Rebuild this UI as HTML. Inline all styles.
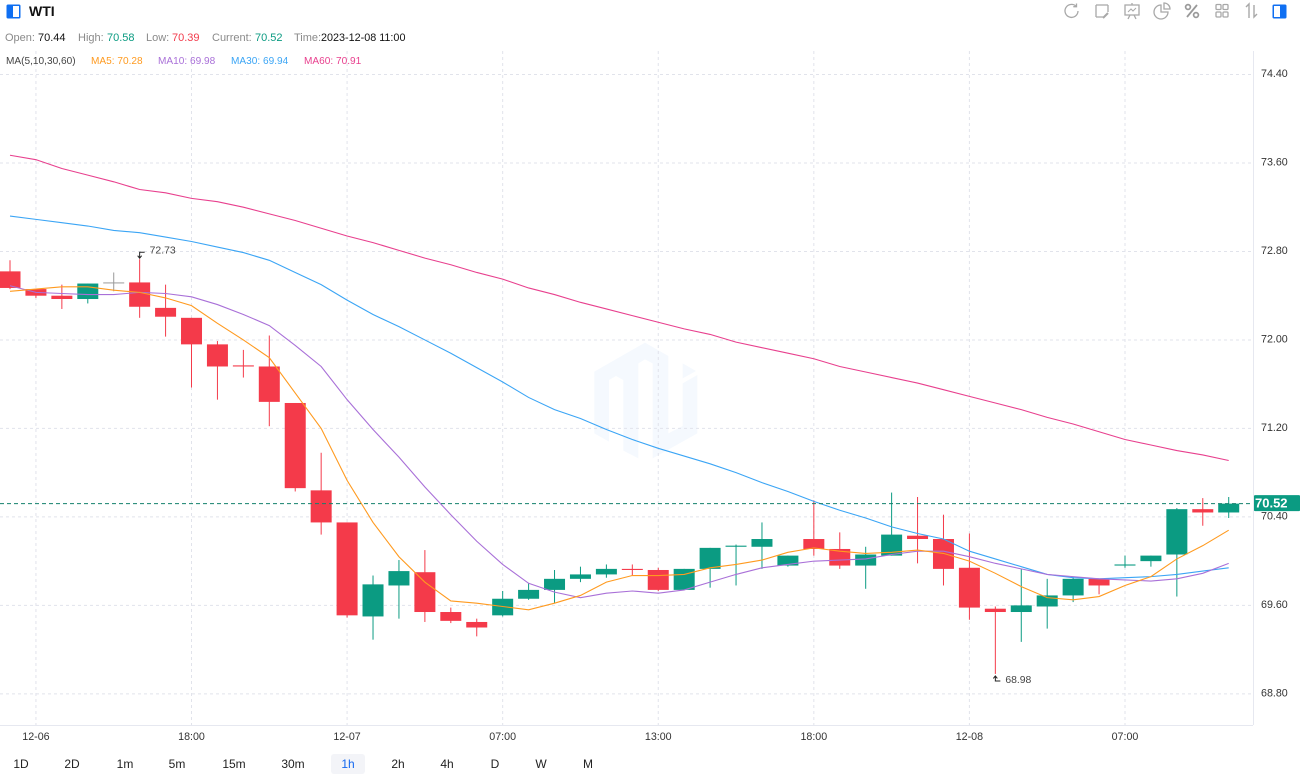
<!DOCTYPE html>
<html lang="en">
<head>
<meta charset="utf-8">
<title>WTI chart</title>
<style>
html,body{margin:0;padding:0;background:#fff;width:1300px;height:774px;overflow:hidden}
body{font-family:"Liberation Sans",Arial,sans-serif;position:relative}
.t{position:absolute;white-space:nowrap;line-height:14px}
.lab{color:#8a8a8a;font-size:11px}
.blk{color:#111;font-size:11px}
.grn{color:#0b9b82;font-size:11px}
.red{color:#f23a4b;font-size:11px}
.ma{font-size:10.1px}
.btn{position:absolute;top:756px;height:16px;line-height:16px;font-size:12px;color:#222;text-align:center;transform:translateX(-50%);white-space:nowrap;cursor:pointer}
#chart{position:absolute;left:0;top:0}
.ic{position:absolute;top:2px;width:20px;height:18px;fill:none;stroke:#a8a8a8;stroke-width:1.3}
</style>
</head>
<body>
<svg id="chart" width="1300" height="774" viewBox="0 0 1300 774" xmlns="http://www.w3.org/2000/svg">
  <defs><clipPath id="plot"><rect x="0" y="51" width="1253" height="674"/></clipPath></defs>
  <g id="watermark" transform="translate(560,320) scale(0.3333)" fill="#f5f9fe">
    <path d="M103 155 L255 68 L325 108 L325 340 L368 318 L368 190 L412 165 L412 340 L278 415 L278 130 L255 118 L235 130 L235 415 L190 392 L190 180 L168 168 L147 180 L147 365 L103 340 Z"/>
    <path d="M368 130 L408 153 L368 175 Z"/>
  </g>
  <g id="grid"></g>
  <g id="candles" clip-path="url(#plot)"></g>
  <g id="lines" clip-path="url(#plot)"></g>
  <g id="extremes"></g>
  <g id="axes"></g>
</svg>

<svg style="position:absolute;left:6px;top:4px" width="15" height="15" viewBox="0 0 15 15"><rect x="0.5" y="0.5" width="14" height="14" rx="1.5" fill="#0f6ff2"/><rect x="7" y="2" width="6" height="11" fill="#fff"/></svg>
<div class="t" style="left:29px;top:4px;font-size:14px;font-weight:bold;color:#111">WTI</div>

<div>
<span class="t lab" style="left:5px;top:31px">Open:</span>
<span class="t blk" style="left:38px;top:31px">70.44</span>
<span class="t lab" style="left:78px;top:31px">High:</span>
<span class="t grn" style="left:107px;top:31px">70.58</span>
<span class="t lab" style="left:146px;top:31px">Low:</span>
<span class="t red" style="left:172px;top:31px">70.39</span>
<span class="t lab" style="left:212px;top:31px">Current:</span>
<span class="t grn" style="left:255px;top:31px">70.52</span>
<span class="t lab" style="left:294px;top:31px">Time:</span>
<span class="t blk" style="left:321px;top:31px;font-size:10.8px">2023-12-08 11:00</span>
</div>

<div>
<span class="t ma" style="left:6px;top:55px;color:#444">MA(5,10,30,60)</span>
<span class="t ma" style="left:91px;top:55px;color:#ff9a1f">MA5: 70.28</span>
<span class="t ma" style="left:158px;top:55px;color:#a970d8">MA10: 69.98</span>
<span class="t ma" style="left:231px;top:55px;color:#3ba5f5">MA30: 69.94</span>
<span class="t ma" style="left:304px;top:55px;color:#e8408e">MA60: 70.91</span>
</div>

<svg class="ic" style="left:1062px" viewBox="0 0 20 18"><path d="M16 9a6.5 6.5 0 1 1-2-4.8"/><path d="M14.5 1.5v3.2h-3.2"/></svg>
<svg class="ic" style="left:1092px" viewBox="0 0 20 18"><path d="M4 3h12M4 3v12M16 3v7M4 15h7"/><path d="M11 16l5-5" stroke-width="2"/></svg>
<svg class="ic" style="left:1122px" viewBox="0 0 20 18"><path d="M3 3h14v10H3zM10 1v2M6 17l2-4M14 17l-2-4"/><path d="M6 10l3-3 2 2 3-3" stroke-width="1"/></svg>
<svg class="ic" style="left:1152px" viewBox="0 0 20 18"><path d="M9 3a7 7 0 1 0 7 7H9z"/><path d="M12 1a6 6 0 0 1 6 6h-6z"/></svg>
<svg class="ic" style="left:1182px;stroke:#999;stroke-width:1.7" viewBox="0 0 20 18"><circle cx="6" cy="5" r="2.4"/><circle cx="14" cy="13" r="2.4"/><path d="M15 3L5 15" stroke-width="1.8"/></svg>
<svg class="ic" style="left:1212px" viewBox="0 0 20 18"><rect x="4" y="2.5" width="5" height="5" rx="1"/><rect x="11" y="2.5" width="5" height="5" rx="1"/><rect x="4" y="10" width="5" height="5" rx="1"/><rect x="11" y="10" width="5" height="5" rx="1"/></svg>
<svg class="ic" style="left:1241px" viewBox="0 0 20 18"><path d="M8 16V2L5 5" stroke-width="1.4"/><path d="M13 3v12l3-3" stroke-width="1.4"/></svg>
<svg style="position:absolute;left:1272px;top:4px" width="15" height="15" viewBox="0 0 15 15"><rect x="0.5" y="0.5" width="14" height="14" rx="1.5" fill="#0f6ff2"/><rect x="2" y="2" width="6" height="11" fill="#fff"/></svg>

<div>
<div style="position:absolute;left:331px;top:754px;width:34px;height:20px;background:#f3f4f8;border-radius:3px"></div>
<div class="btn" style="left:21px">1D</div>
<div class="btn" style="left:72px">2D</div>
<div class="btn" style="left:125px">1m</div>
<div class="btn" style="left:177px">5m</div>
<div class="btn" style="left:234px">15m</div>
<div class="btn" style="left:293px">30m</div>
<div class="btn" style="left:348px;color:#1468f0">1h</div>
<div class="btn" style="left:398px">2h</div>
<div class="btn" style="left:447px">4h</div>
<div class="btn" style="left:495px">D</div>
<div class="btn" style="left:541px">W</div>
<div class="btn" style="left:588px">M</div>
</div>

<script>
const openPrices = [72.62,72.46,72.40,72.37,72.52,72.52,72.29,72.20,71.96,71.77,71.76,71.43,70.64,70.35,69.50,69.78,69.90,69.54,69.45,69.51,69.66,69.74,69.84,69.88,69.93,69.92,69.74,69.93,70.13,70.13,69.96,70.20,70.11,69.96,70.05,70.23,70.20,69.94,69.57,69.54,69.59,69.69,69.84,69.96,70.00,70.06,70.47,70.44];
const highPrices = [72.72,72.46,72.50,72.51,72.61,72.73,72.50,72.20,71.99,71.91,72.04,71.43,70.98,70.35,69.87,70.01,70.10,69.58,69.48,69.73,69.80,69.92,69.95,69.97,69.97,69.94,69.93,70.12,70.15,70.35,70.05,70.55,70.26,70.13,70.62,70.58,70.42,70.25,69.59,69.93,69.84,69.86,69.84,70.05,70.05,70.48,70.57,70.58];
const lowPrices = [72.46,72.38,72.28,72.33,72.44,72.20,72.03,71.57,71.46,71.66,71.22,70.63,70.24,69.49,69.29,69.48,69.45,69.44,69.32,69.50,69.65,69.62,69.81,69.85,69.87,69.73,69.74,69.76,69.78,69.93,69.95,70.05,69.93,69.75,70.05,69.98,69.78,69.47,68.98,69.27,69.39,69.63,69.70,69.94,69.95,69.68,70.32,70.39];
const closePrices = [72.47,72.40,72.37,72.51,72.52,72.30,72.21,71.96,71.76,71.76,71.44,70.66,70.35,69.51,69.79,69.91,69.54,69.46,69.40,69.66,69.74,69.84,69.88,69.93,69.92,69.74,69.93,70.12,70.14,70.20,70.05,70.11,69.96,70.06,70.24,70.20,69.93,69.58,69.54,69.60,69.69,69.84,69.78,69.97,70.05,70.47,70.44,70.52];
const ma5 = [72.44,72.46,72.48,72.48,72.45,72.43,72.38,72.31,72.15,72.00,71.84,71.52,71.20,70.73,70.35,70.04,69.81,69.64,69.62,69.59,69.56,69.62,69.69,69.81,69.87,69.87,69.88,69.94,69.97,70.01,70.08,70.12,70.09,70.07,70.08,70.10,70.07,70.00,69.89,69.77,69.67,69.65,69.68,69.78,69.86,70.02,70.14,70.28];
const ma10 = [72.49,72.43,72.42,72.41,72.41,72.43,72.42,72.39,72.32,72.23,72.13,71.95,71.76,71.46,71.19,70.94,70.67,70.42,70.18,69.97,69.80,69.72,69.67,69.71,69.73,69.71,69.74,69.81,69.88,69.94,69.97,70.00,70.01,70.02,70.06,70.09,70.09,70.04,69.98,69.93,69.88,69.86,69.84,69.83,69.82,69.84,69.89,69.98];
const ma30 = [73.12,73.09,73.06,73.03,72.99,72.97,72.93,72.89,72.84,72.79,72.72,72.61,72.50,72.36,72.23,72.12,72.00,71.88,71.75,71.62,71.48,71.37,71.29,71.19,71.10,71.02,70.95,70.88,70.80,70.71,70.63,70.54,70.46,70.39,70.31,70.25,70.20,70.09,70.02,69.95,69.88,69.85,69.84,69.85,69.86,69.88,69.91,69.94];
const ma60 = [73.67,73.63,73.55,73.49,73.43,73.36,73.33,73.28,73.25,73.20,73.14,73.08,73.01,72.94,72.88,72.81,72.74,72.68,72.61,72.55,72.47,72.41,72.34,72.28,72.22,72.16,72.10,72.05,71.98,71.93,71.88,71.83,71.76,71.71,71.66,71.61,71.55,71.49,71.43,71.37,71.30,71.24,71.17,71.10,71.05,71.00,70.96,70.91];
const priceTicks = [74.40,73.60,72.80,72.00,71.20,70.40,69.60,68.80];
const timeTickLabels = ["12-06","18:00","12-07","07:00","13:00","18:00","12-08","07:00"];
const timeTickIndexes = [1,7,13,19,25,31,37,43];
const currentPrice = 70.52;

const NS = "http://www.w3.org/2000/svg";
const xOf = function (i) { return 10 + 25.93 * i; };
const yOf = function (p) { return 74.5 + (74.4 - p) * 110.6; };
const UP = "#0b9b82", DOWN = "#f43a4a", FLAT = "#9a9a9a", GRID = "#e1e3eb";

function mk(parent, tag, props, text) {
  const el = document.createElementNS(NS, tag);
  for (const k in props) el.setAttribute(k, props[k]);
  if (text !== undefined) el.textContent = text;
  parent.appendChild(el);
  return el;
}

const gridG = document.getElementById("grid");
const candlesG = document.getElementById("candles");
const linesG = document.getElementById("lines");
const extremesG = document.getElementById("extremes");
const axesG = document.getElementById("axes");

priceTicks.forEach(function (p) {
  const y = yOf(p);
  const line = mk(gridG, "line", {x1: 0, x2: 1253, y1: y, y2: y, stroke: GRID, "stroke-width": 1, "stroke-dasharray": "3 3"});
  
  
  const label = mk(axesG, "text", {x: 1261, y: y + 2.5, "font-size": 10.7, fill: "#333"}, p.toFixed(2));
  
  
});

timeTickIndexes.forEach(function (idx, n) {
  const x = xOf(idx);
  const line = mk(gridG, "line", {x1: x, x2: x, y1: 51, y2: 725, stroke: GRID, "stroke-width": 1, "stroke-dasharray": "3 3"});
  
  
  const label = mk(axesG, "text", {x: x, y: 740, "font-size": 10.7, fill: "#333", "text-anchor": "middle"}, timeTickLabels[n]);
  
  
});

openPrices.forEach(function (o, i) {
  const c = closePrices[i];
  const color = i === 4 ? FLAT : (c > o ? UP : (c < o ? DOWN : UP));
  const x = xOf(i);
  const wick = mk(candlesG, "line", {x1: x, x2: x, y1: yOf(highPrices[i]), y2: yOf(lowPrices[i]), stroke: color, "stroke-width": 1});
  
  
  const top = yOf(Math.max(o, c));
  const h = Math.max(1, yOf(Math.min(o, c)) - top);
  const body = mk(candlesG, "rect", {x: x - 10.5, y: top, width: 21, height: h, fill: color});
  
  
});

function drawLine(values, color, name) {
  const pts = values.map(function (v, i) { return xOf(i).toFixed(2) + "," + yOf(v).toFixed(2); }).join(" ");
  const line = mk(linesG, "polyline", {points: pts, fill: "none", stroke: color, "stroke-width": 1.1});
  
  
}
drawLine(ma60, "#e8408e", "ma60-line");
drawLine(ma30, "#3ba5f5", "ma30-line");
drawLine(ma10, "#a970d8", "ma10-line");
drawLine(ma5, "#ff9a1f", "ma5-line");

const curY = yOf(currentPrice);
const curLine = mk(linesG, "line", {x1: 0, x2: 1253, y1: curY, y2: curY, stroke: "#13806c", "stroke-width": 1, "stroke-dasharray": "4 3"});



const maxHigh = Math.max.apply(null, highPrices);
const minLow = Math.min.apply(null, lowPrices);
const maxIdx = highPrices.indexOf(maxHigh);
const minIdx = lowPrices.indexOf(minLow);
const hx = xOf(maxIdx), hy = yOf(maxHigh) - 7;
const hiMark = mk(extremesG, "path", {d: "M" + (hx + 5) + " " + hy + "H" + hx + "V" + (hy + 6) + "M" + (hx - 2) + " " + (hy + 3.5) + "L" + hx + " " + (hy + 6) + "L" + (hx + 2) + " " + (hy + 3.5), fill: "none", stroke: "#222", "stroke-width": 1});


const hiText = mk(extremesG, "text", {x: hx + 10, y: hy + 1.5, "font-size": 10.4, fill: "#444"}, maxHigh.toFixed(2));


const lx = xOf(minIdx), ly = yOf(minLow) + 7;
const loMark = mk(extremesG, "path", {d: "M" + (lx + 5) + " " + ly + "H" + lx + "V" + (ly - 5) + "M" + (lx - 2) + " " + (ly - 2.5) + "L" + lx + " " + (ly - 5) + "L" + (lx + 2) + " " + (ly - 2.5), fill: "none", stroke: "#222", "stroke-width": 1});


const loText = mk(extremesG, "text", {x: lx + 10, y: ly + 2, "font-size": 10.4, fill: "#444"}, minLow.toFixed(2));



const yAxis = mk(axesG, "line", {x1: 1253.5, x2: 1253.5, y1: 51, y2: 725, stroke: "#e6e8f0", "stroke-width": 1});


const xAxis = mk(axesG, "line", {x1: 0, x2: 1253, y1: 725.5, y2: 725.5, stroke: "#e6e8f0", "stroke-width": 1});



const tagBox = mk(axesG, "rect", {x: 1254, y: curY - 8.5, width: 46, height: 16, fill: UP, rx: 1});


const tagText = mk(axesG, "text", {x: 1255, y: curY + 4, "font-size": 13, "font-weight": "bold", fill: "#fff"}, currentPrice.toFixed(2));


</script>
</body>
</html>
